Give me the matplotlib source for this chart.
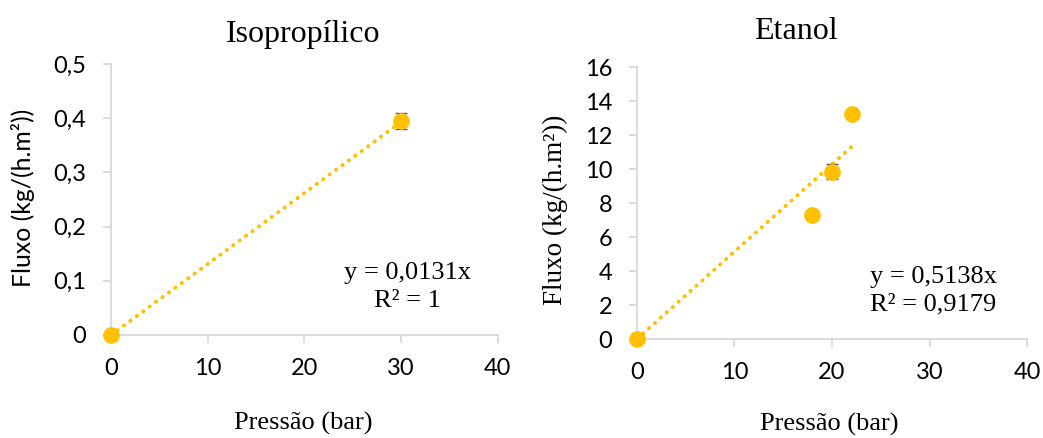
import matplotlib
matplotlib.use("Agg")
import matplotlib.pyplot as plt
import numpy as np

# Data
iso_x = [0, 30]
iso_y = [0, 0.395]
iso_err = [0, 0.015]
iso_slope = 0.0131
iso_eq = "y = 0,0131x\nR² = 1"

eta_x = [0, 18, 20, 22]
eta_y = [0, 7.3, 9.85, 13.25]
eta_err = [0, 0, 0.45, 0]
eta_slope = 0.5138
eta_eq = "y = 0,5138x\nR² = 0,9179"

x_ticks = [0, 10, 20, 30, 40]
iso_yticks = [0, 0.1, 0.2, 0.3, 0.4, 0.5]
eta_yticks = [0, 2, 4, 6, 8, 10, 12, 14, 16]

COLOR = "#FFC000"
SPINE = "#D9D9D9"
SANS = ["Lato", "DejaVu Sans"]
SERIF = ["Liberation Serif", "DejaVu Serif"]
W, H = 1043, 438

fig = plt.figure(figsize=(10.43, 4.38), dpi=100)
ax1 = fig.add_axes([0.1064, 0.2352, 0.371, 0.6187])
ax2 = fig.add_axes([0.6107, 0.226, 0.374, 0.621])


def style(ax, yticks, fmt, ylabel_family, ylabel_size, ylab_xy, xlab_xy):
    ax.set_xlim(0, 40)
    ax.set_ylim(yticks[0], yticks[-1])
    ax.set_xticks(x_ticks)
    ax.set_yticks(yticks)
    ax.set_xticklabels([str(t) for t in x_ticks], family=SANS, fontsize=17)
    ax.set_yticklabels([fmt(t) for t in yticks], family=SANS, fontsize=17)
    for s in ["top", "right"]:
        ax.spines[s].set_visible(False)
    for s in ["left", "bottom"]:
        ax.spines[s].set_color(SPINE)
        ax.spines[s].set_linewidth(1.3)
    ax.tick_params(axis="both", direction="out", length=5.8, width=1.3, color=SPINE)
    ax.tick_params(axis="y", pad=12)
    ax.tick_params(axis="x", pad=11)
    ax.set_xlabel("Pressão (bar)", family=SERIF, fontsize=19)
    ax.set_ylabel("Fluxo (kg/(h.m²))", family=ylabel_family, fontsize=ylabel_size)
    ax.yaxis.set_label_coords(*ylab_xy)
    ax.xaxis.set_label_coords(*xlab_xy)


style(ax1, iso_yticks, lambda t: ("%.1f" % t).replace(".", ",") if t != 0 else "0",
      SANS, 17.8, (-0.196, 0.507), (0.496, -0.285))
style(ax2, eta_yticks, lambda t: str(t), SERIF, 19.5, (-0.177, 0.476), (0.492, -0.27))

for ax, xs, ys, errs, slope in [
    (ax1, iso_x, iso_y, iso_err, iso_slope),
    (ax2, eta_x, eta_y, eta_err, eta_slope),
]:
    xr = np.array([0, max(xs)])
    ax.plot(xr, slope * xr, linestyle=(0, (0.1, 1.95)), dash_capstyle="round",
            color=COLOR, linewidth=2.8, zorder=2)
    ax.errorbar(xs, ys, yerr=errs, fmt="none", ecolor="#595959", elinewidth=1,
                capsize=4, capthick=1, zorder=3)
    ax.plot(xs, ys, "o", color=COLOR, markersize=11, zorder=4, clip_on=False)

fig.text(303 / W, 1 - 42 / H, "Isopropílico", family=SERIF, fontsize=23,
         ha="center", va="baseline")
fig.text(796 / W, 1 - 39 / H, "Etanol", family=SERIF, fontsize=23,
         ha="center", va="baseline")

fig.text(407 / W, 1 - 287 / H, iso_eq, family=SERIF, fontsize=19,
         ha="center", va="center", linespacing=1.3)
fig.text(933 / W, 1 - 291 / H, eta_eq, family=SERIF, fontsize=19,
         ha="center", va="center", linespacing=1.3)

fig.savefig("out.png", dpi=100)
